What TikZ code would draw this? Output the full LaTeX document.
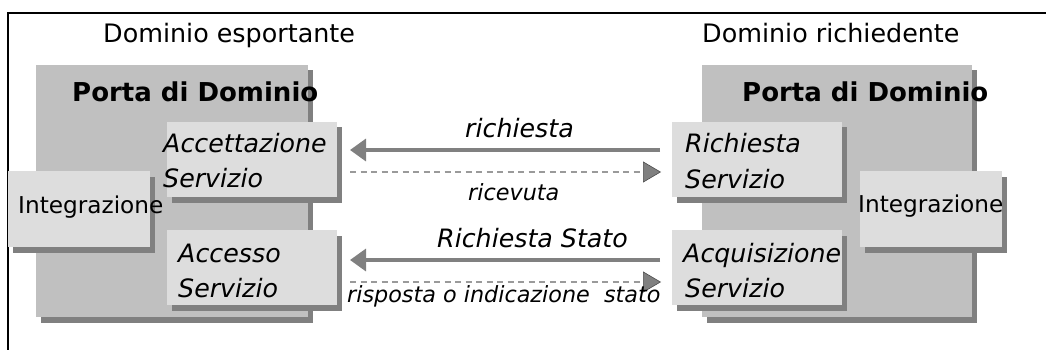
\documentclass[tikz,border=0pt]{standalone}
\usepackage{fontspec}
\setmainfont{DejaVu Sans}
\usetikzlibrary{shadows,arrows.meta}
\definecolor{bigbox}{HTML}{C0C0C0}
\definecolor{smallbox}{HTML}{DDDDDD}
\definecolor{shadowc}{HTML}{808080}
\definecolor{arrowc}{HTML}{808080}
\definecolor{dashc}{HTML}{9A9A9A}
\tikzset{
  shad/.style={drop shadow={shadow xshift=4.5pt,shadow yshift=-5.5pt,fill=shadowc,opacity=1}},
  portabox/.style={rectangle,fill=bigbox,draw=none,inner sep=0pt,shad},
  svcbox/.style={rectangle,fill=smallbox,draw=none,inner sep=0pt,shad},
  lbl/.style={inner sep=0pt,anchor=base west},
  titlef/.style={lbl,font=\fontsize{25.4}{30}\selectfont},
  boldf/.style={lbl,font=\fontsize{26}{30}\selectfont\bfseries},
  itf/.style={lbl,font=\fontsize{25.3}{30}\selectfont\itshape},
  intf/.style={lbl,font=\fontsize{23.2}{28}\selectfont},
  smallit/.style={lbl,font=\fontsize{22.3}{27}\selectfont\itshape},
  solidarr/.style={draw=arrowc,line width=3.5pt,-{Triangle[length=16pt,width=22pt]}},
  dasharr/.style={draw=dashc,line width=1.2pt,dash pattern=on 6pt off 4.5pt,
    -{Triangle[length=18pt,width=21pt,color=black!70,fill=arrowc,line width=0.6pt]}},
}
\begin{document}
\begin{tikzpicture}[x=1pt,y=-1pt]
\useasboundingbox (0,0) rectangle (1046,350);
% frame
\coordinate (fb) at (8,352);
\coordinate (ft) at (8,13);
\coordinate (fr) at (1048,13);
\draw[line width=1.3pt,black] (fb) -- (ft) -- (fr);
% titles
\node[titlef] (tl) at (103,43) {Dominio esportante};
\node[titlef] (tr) at (702,43) {Dominio richiedente};
% big boxes
\node[portabox,minimum width=272pt,minimum height=252pt] (pl) at (172,191) {};
\node[portabox,minimum width=270pt,minimum height=252pt] (pr) at (837,191) {};
% small boxes
\node[svcbox,minimum width=142pt,minimum height=76pt] (il) at (79,209) {};
\node[svcbox,minimum width=170pt,minimum height=75pt] (al) at (252,159.5) {};
\node[svcbox,minimum width=170pt,minimum height=75pt] (sl) at (252,267.5) {};
\node[svcbox,minimum width=170pt,minimum height=75pt] (rr) at (757,159.5) {};
\node[svcbox,minimum width=170pt,minimum height=75pt] (qr) at (757,267.5) {};
\node[svcbox,minimum width=142pt,minimum height=76pt] (ir) at (931,209) {};
% box texts
\node[boldf] (plt) at (72,102) {Porta di Dominio};
\node[boldf] (prt) at (742,102) {Porta di Dominio};
\node[itf] (al1) at (163,152) {Accettazione};
\node[itf] (al2) at (163,187) {Servizio};
\node[itf] (sl1) at (178,262) {Accesso};
\node[itf] (sl2) at (178,297) {Servizio};
\node[intf] (ilt) at (18,213) {Integrazione};
\node[itf] (rr1) at (685,153) {Richiesta};
\node[itf] (rr2) at (685,188) {Servizio};
\node[itf] (qr1) at (683,262) {Acquisizione};
\node[itf] (qr2) at (685,297) {Servizio};
\node[intf] (irt) at (858,212) {Integrazione};
% arrows
\coordinate (a1s) at (660,150);
\coordinate (a1e) at (350,150);
\coordinate (d1s) at (350,172);
\coordinate (d1e) at (661,172);
\coordinate (a2s) at (660,260);
\coordinate (a2e) at (350,260);
\coordinate (d2s) at (350,282);
\coordinate (d2e) at (661,282);
\draw[solidarr] (a1s) -- (a1e);
\draw[dasharr] (d1s) -- (d1e);
\draw[solidarr] (a2s) -- (a2e);
\draw[dasharr] (d2s) -- (d2e);
% arrow labels
\node[itf] (l1) at (465,137) {richiesta};
\node[smallit] (l2) at (468,200) {ricevuta};
\node[itf] (l3) at (437,247) {Richiesta Stato};
\node[smallit] (l4) at (347,302) {risposta o indicazione\ \ stato};
\end{tikzpicture}
\end{document}
